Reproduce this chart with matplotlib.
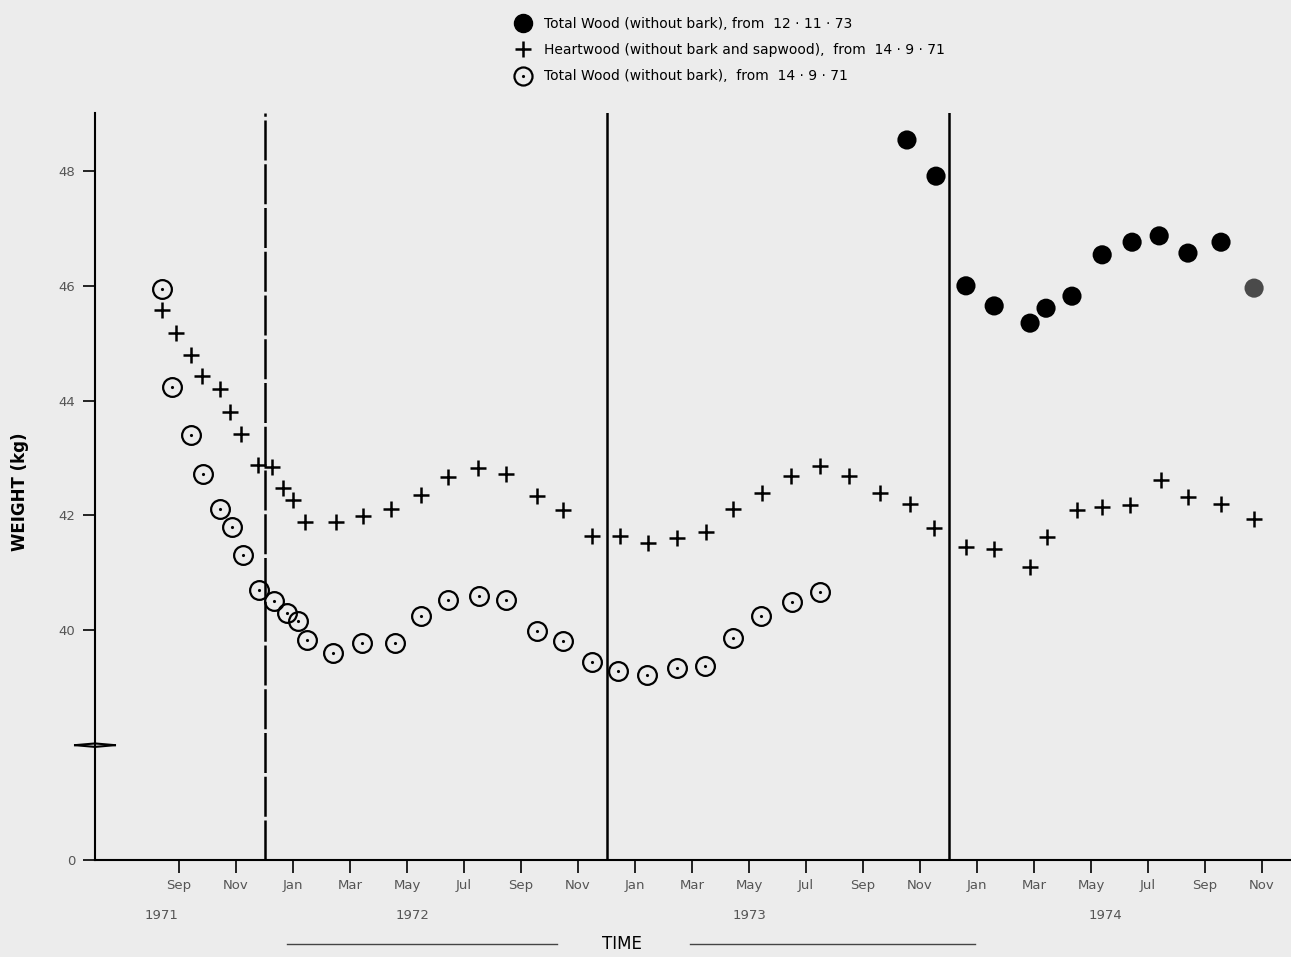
import numpy as np
import matplotlib.pyplot as plt
from matplotlib.lines import Line2D
from matplotlib.legend_handler import HandlerTuple

# x values are months counted from Jan 1971 (Sep 1971 = 8, Jan 1972 = 12 ...)
# the y axis is broken: the "0" tick is drawn at 36

# Total wood (without bark), from 12.11.73
total73_month = [33.54, 34.56, 35.61, 36.60, 37.86, 38.42, 39.33, 40.39, 41.44, 42.39, 43.40, 44.56, 45.72]
total73_kg = [48.54, 47.91, 46.00, 45.65, 45.35, 45.61, 45.82, 46.54, 46.76, 46.87, 46.57, 46.76, 45.96]

# Heartwood (without bark and sapwood), from 14.9.71
heart_month = [7.40, 7.89, 8.42, 8.81, 9.44, 9.79, 10.18, 10.77, 11.26, 11.65, 12.00, 12.42,
               13.51, 14.46, 15.44, 16.49, 17.44, 18.49, 19.47, 20.56, 21.47, 22.49, 23.47,
               24.46, 25.47, 26.49, 27.44, 28.46, 29.47, 30.49, 31.51, 32.60, 33.65, 34.49,
               35.61, 36.60, 37.86, 38.46, 39.51, 40.39, 41.37, 42.46, 43.40, 44.56, 45.72]
heart_kg = [45.58, 45.18, 44.79, 44.43, 44.20, 43.80, 43.42, 42.88, 42.84, 42.48, 42.27, 41.88,
            41.88, 41.99, 42.11, 42.36, 42.67, 42.83, 42.72, 42.34, 42.09, 41.64, 41.64,
            41.52, 41.60, 41.71, 42.11, 42.39, 42.69, 42.86, 42.69, 42.39, 42.20, 41.78,
            41.45, 41.41, 41.10, 41.62, 42.09, 42.15, 42.18, 42.62, 42.32, 42.20, 41.94]

# Total wood (without bark), from 14.9.71
total71_month = [7.40, 7.75, 8.42, 8.84, 9.44, 9.86, 10.25, 10.81, 11.33, 11.79, 12.18, 12.49,
                 13.40, 14.42, 15.58, 16.49, 17.44, 18.53, 19.47, 20.56, 21.47, 22.49, 23.40,
                 24.42, 25.47, 26.46, 27.44, 28.42, 29.51, 30.49]
total71_kg = [45.94, 44.24, 43.40, 42.72, 42.11, 41.80, 41.31, 40.70, 40.51, 40.30, 40.16, 39.83,
              39.60, 39.78, 39.78, 40.25, 40.53, 40.60, 40.53, 39.99, 39.81, 39.45, 39.29,
              39.22, 39.34, 39.38, 39.86, 40.25, 40.49, 40.67]

year_labels = ['1971', '1972', '1973', '1974']
year_pos = [7.4, 16.2, 28.0, 40.5]
year_breaks = [11, 23, 35]

month_names = ['Jan', 'Feb', 'Mar', 'Apr', 'May', 'Jun',
               'Jul', 'Aug', 'Sep', 'Oct', 'Nov', 'Dec']
tick_months = np.arange(8, 47, 2)
tick_names = [month_names[m % 12] for m in tick_months]

ytick_pos = [36, 40, 42, 44, 46, 48]
ytick_labels = ['0', '40', '42', '44', '46', '48']

legend_labels = ['Total Wood (without bark), from  12 · 11 · 73',
                 'Heartwood (without bark and sapwood),  from  14 · 9 · 71',
                 'Total Wood (without bark),  from  14 · 9 · 71']

bg = '#ececec'
W, H = 1291, 957
fig = plt.figure(figsize=(W / 100, H / 100), dpi=100, facecolor=bg)
ax = fig.add_axes([95 / W, 1 - 860 / H, (1290 - 95) / W, (860 - 113) / H])
ax.set_facecolor(bg)

for i, m in enumerate(year_breaks):
    if i == 0:
        ax.axvline(m, color='k', lw=1.8, ls=(0, (16, 1.5)))
    else:
        ax.axvline(m, color='k', lw=1.8)

ax.plot(total71_month, total71_kg, 'o', ms=13.5, mfc='none', mec='k', mew=1.6)
ax.plot(total71_month, total71_kg, '.', ms=2.5, color='k')
ax.plot(heart_month, heart_kg, '+', ms=12, mew=1.8, color='k')
dot_colors = ['k'] * (len(total73_kg) - 1) + ['#4a4a4a']
ax.scatter(total73_month, total73_kg, s=190, c=dot_colors, edgecolors='none', zorder=3)

ax.set_xlim(5.05, 46.98)
ax.set_ylim(36, 49.01)
ax.spines['top'].set_visible(False)
ax.spines['right'].set_visible(False)
ax.spines['left'].set_linewidth(1.5)
ax.spines['bottom'].set_linewidth(1.5)

ax.set_xticks(tick_months)
ax.set_xticklabels(tick_names)
ax.set_yticks(ytick_pos)
ax.set_yticklabels(ytick_labels)
ax.tick_params(direction='out', length=9, width=1.2, labelsize=9.5, labelcolor='#555555', pad=5)

# axis break mark
ax.plot([4.35, 5.05, 5.75], [38.0, 38.03, 38.0], color='k', lw=1.5, clip_on=False)
ax.plot([4.35, 5.05, 5.75], [38.0, 37.97, 38.0], color='k', lw=1.5, clip_on=False)

for lab, x in zip(year_labels, year_pos):
    ax.text(x, -0.074, lab, transform=ax.get_xaxis_transform(), ha='center', va='center',
            fontsize=9.5, color='#555555')

fig.text(20 / W, 1 - 492 / H, 'WEIGHT (kg)', rotation=90, ha='center', va='center',
         fontsize=12, fontweight='semibold')
fig.text(622 / W, 1 - 944 / H, 'TIME', ha='center', va='center', fontsize=12)
fig.add_artist(Line2D([287 / W, 557 / W], [1 - 944 / H] * 2, color='#444444', lw=1))
fig.add_artist(Line2D([690 / W, 975 / W], [1 - 944 / H] * 2, color='#444444', lw=1))

handles = [
    Line2D([], [], marker='o', ls='none', color='k', ms=13),
    Line2D([], [], marker='+', ls='none', color='k', ms=12, mew=1.8),
    (Line2D([], [], marker='o', ls='none', mfc='none', mec='k', ms=13, mew=1.6),
     Line2D([], [], marker='.', ls='none', color='k', ms=2.5)),
]
fig.legend(handles, legend_labels, loc='upper left', bbox_to_anchor=(500 / W, 1 - 4 / H),
           frameon=False, fontsize=10, labelspacing=0.9, handletextpad=0.8, handlelength=1.5,
           handler_map={tuple: HandlerTuple(ndivide=1)})

fig.savefig('out.png', dpi=100, facecolor=bg)
